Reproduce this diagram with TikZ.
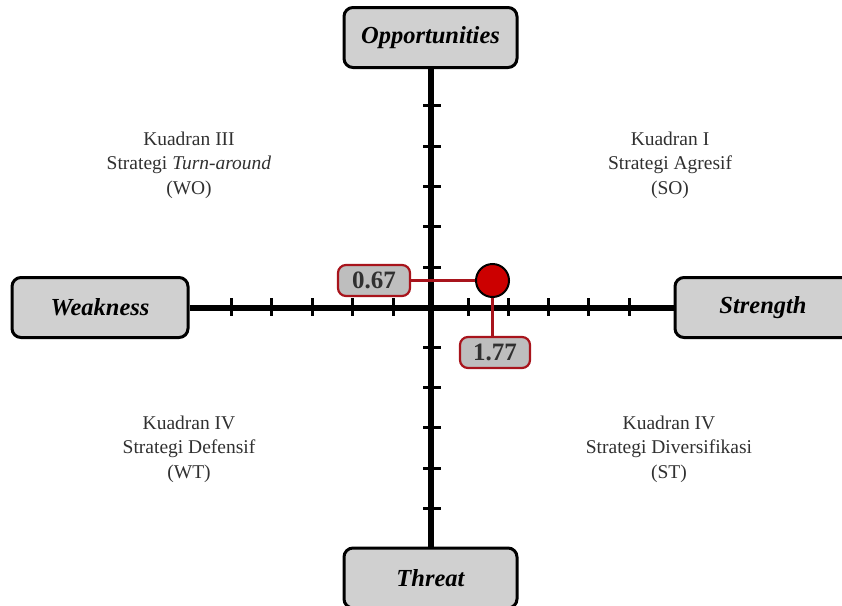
\documentclass[tikz,border=0pt]{standalone}
\usepackage{fontspec}
\setmainfont{Liberation Serif}
\usetikzlibrary{positioning, calc}

\definecolor{boxgray}{HTML}{D0D0D0}
\definecolor{valgray}{HTML}{BEBEBE}
\definecolor{darkred}{HTML}{A8141C}
\definecolor{dotred}{HTML}{CC0000}
\definecolor{textgray}{HTML}{303030}

\begin{document}
\begin{tikzpicture}[
        x=1pt, y=-1pt,
        side/.style={draw=black, line width=3pt, rounded corners=9pt, fill=boxgray,
            minimum width=176pt, minimum height=60pt, inner sep=0pt,
            font=\fontsize{24.5}{28}\selectfont\bfseries\itshape},
        value/.style={draw=darkred, line width=2.2pt, rounded corners=8pt, fill=valgray,
            minimum width=70pt, minimum height=31pt, inner sep=0pt, text=textgray,
            font=\fontsize{25}{28}\selectfont\bfseries},
        quad/.style={align=center, text=textgray, font=\fontsize{19.5}{24.5}\selectfont},
        axis/.style={line width=6pt},
        tick/.style={line width=3pt},
        redline/.style={draw=darkred, line width=3pt},
        point/.style={circle, draw=black, line width=2pt, fill=dotred, minimum size=33pt, inner sep=0pt},
    ]
    \useasboundingbox (0,0) rectangle (842,605);

        % Draw the four side boxes
        \node[side] (weak) at (100,307.5) {Weakness};
        \node[side] (str) at (763,307.5) {Strength};
        \node[side, minimum width=173pt] (opp) at (430.5,37.5) {Opportunities};
        \node[side, minimum width=173pt] (thr) at (430.5,578) {Threat};

        % Draw the axes
        \coordinate (origin) at (432,307);
        \draw[axis] (weak.east) -- (str.west);
        \draw[axis] (opp.south) -- (thr.north);

        % Draw the ticks on both axes
        \foreach \d in {39,79.5,120,160.5,201}
            \draw[tick] ($(origin)+(-\d,-9)$) -- ($(origin)+(-\d,9)$);
        \foreach \d in {36.5,76.5,116.5,156.5,197}
            \draw[tick] ($(origin)+(\d,-9)$) -- ($(origin)+(\d,9)$);
        \foreach \d in {40,80.5,120.5,161,201.5} {
            \draw[tick] ($(origin)+(-9,-\d)$) -- ($(origin)+(9,-\d)$);
            \draw[tick] ($(origin)+(-9,\d)$) -- ($(origin)+(9,\d)$);
        }

        % Draw the quadrant labels
        \node[quad] (q3) at (189,165) {Kuadran III\\Strategi \textit{Turn-around}\\(WO)};
        \node[quad] (q1) at (670,165) {Kuadran I\\Strategi Agresif\\(SO)};
        \node[quad] (q4a) at (189,449) {Kuadran IV\\Strategi Defensif\\(WT)};
        \node[quad] (q4b) at (669,449) {Kuadran IV\\Strategi Diversifikasi\\(ST)};

        % Draw the position point and its values
        \node[value, minimum width=72pt] (vy) at (374,280.5) {0.67};
        \node[value] (vx) at (495,352.5) {1.77};
        \coordinate (pos) at (492.5,280.5);
        \draw[redline] (vy.east) -- (pos);
        \draw[redline] (pos) -- (pos |- vx.north);
        \node[point] (dot) at (pos) {};
    \end{tikzpicture}
\end{document}
